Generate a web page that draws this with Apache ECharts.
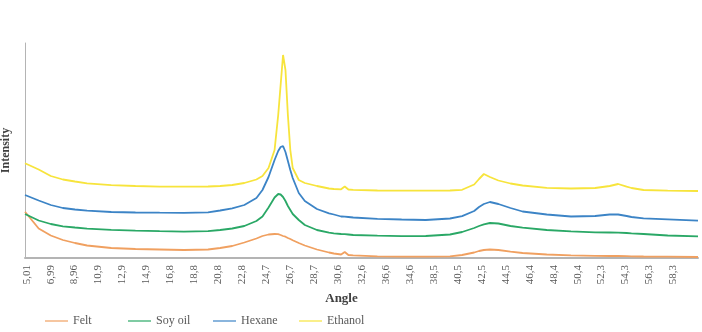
<!DOCTYPE html>
<html>
<head>
<meta charset="utf-8">
<script src="https://cdn.jsdelivr.net/npm/echarts@6/dist/echarts.min.js"></script>
<style>
  html, body { margin: 0; padding: 0; background: #fff; }
  #chart { width: 702px; height: 332px; }
</style>
</head>
<body>
<div id="chart"></div>
<script>
// x positions of the sampled points (2θ, degrees)
const angle = [4.87, 6, 7, 8, 9, 10, 12, 14, 16, 18, 20, 21, 22, 23, 24, 24.5, 25, 25.5, 25.8, 26.0,
  26.2, 26.4, 26.6, 26.8, 27.0, 27.5, 28, 29, 30, 30.4, 31.0, 31.3, 31.6, 32, 34, 36, 38, 40, 41, 42.0,
  42.4, 42.8, 43.3, 44, 45, 46, 48, 50, 52, 53.2, 53.9, 54.6, 55, 56, 58, 60.5]

// intensities (arbitrary units)
const felt = [46.3, 29.5, 22.5, 18, 15, 12.5, 10, 9, 8.5, 8, 8.5, 10, 12, 15.5, 19.5, 22, 23.5, 24, 23.8, 23,
  22, 21.3, 20, 19, 17.8, 15, 12.5, 8.5, 5.5, 4.5, 3.5, 6, 3, 2.7, 1.7, 1.3, 1.3, 1.7, 3, 5.5,
  7, 8, 8.5, 8, 6.3, 5, 3.5, 2.7, 2.2, 2, 2, 1.8, 1.7, 1.5, 1.3, 1]
const soyOil = [44, 37.5, 34, 31.7, 30.5, 29.4, 28.2, 27.4, 26.8, 26.3, 26.8, 28, 29.5, 32, 37, 41.5, 50.5, 60.5, 64, 63.5,
  61, 57, 52, 48, 44, 38, 33, 28, 25.3, 24.7, 24, 23.8, 23.5, 23, 22.3, 21.8, 22, 23.5, 26, 30,
  32, 33.7, 35, 34.5, 32, 30.3, 28, 26.7, 25.7, 25.5, 25.4, 25, 24.7, 24, 22.5, 21.7]
const hexane = [63, 57.5, 53, 50, 48.5, 47.3, 46, 45.5, 45.3, 45.2, 45.7, 47.5, 49.7, 53, 60, 68, 81, 98, 107, 111,
  112, 106, 97, 88, 80, 65, 57, 49, 44.7, 43.5, 41.5, 41.3, 41, 40.5, 39.2, 38.5, 38, 39.5, 41.8, 47,
  51, 54, 56, 54, 50, 46.5, 43.5, 41.5, 42, 43.5, 43.5, 42, 41, 39.7, 38.7, 37.3]
const ethanol = [94.7, 88.5, 82, 78.5, 76.5, 74.7, 72.8, 72, 71.3, 71.3, 71.5, 72, 73, 75, 78.5, 82, 90, 108, 143, 173,
  203, 188, 143, 108, 90, 78, 75, 72, 69.5, 69, 68.7, 71.5, 68.5, 68.2, 67.5, 67.3, 67.3, 67.5, 68.2, 73.5,
  79, 84, 81, 77.5, 74.5, 72.5, 70.2, 69.5, 70, 72, 74, 71.3, 70, 68, 67.3, 67]

// tick labels as printed under the axis
const tickLabels = ['5,01', '6,99', '8,96', '10,9', '12,9', '14,9', '16,8', '18,8', '20,8', '22,8',
  '24,7', '26,7', '28,7', '30,6', '32,6', '36,6', '34,6', '38,5', '40,5', '42,5',
  '44,5', '46,4', '48,4', '50,4', '52,3', '54,3', '56,3', '58,3']
const tickValues = tickLabels.map((t, i) => +(5.01 + i * 1.98).toFixed(2))

const seriesNames = ['Felt', 'Soy oil', 'Hexane', 'Ethanol']
const seriesData = [felt, soyOil, hexane, ethanol]
const colors = ['#f0a060', '#2aa866', '#3c84c6', '#f7e43c']
const legendLeft = [40, 123, 208, 294]

const font = "'Liberation Serif', 'DejaVu Serif', serif"

const myChart = echarts.init(document.getElementById('chart'))
myChart.setOption({
  animation: false,
  backgroundColor: '#fff',
  color: colors,
  grid: {
    left: 25,
    right: 4,
    top: 43,
    bottom: 74,
    outerBoundsMode: 'none'
  },
  // one legend per item, so each sits where the reference puts it
  legend: seriesNames.map((name, k) => ({
    data: [name],
    left: legendLeft[k],
    top: 310,
    icon: 'rect',
    itemWidth: 23,
    itemHeight: 2,
    itemGap: 6,
    itemStyle: { opacity: 0.6 },
    textStyle: {
      fontFamily: font,
      fontSize: 12,
      color: '#595959'
    }
  })),
  xAxis: {
    type: 'value',
    min: 4.87,
    max: 60.5,
    name: 'Angle',
    nameLocation: 'middle',
    nameGap: 33,
    nameTextStyle: {
      fontFamily: font,
      fontSize: 13,
      fontWeight: 'bold',
      color: '#404040',
      padding: [0, 40, 0, 0]
    },
    axisLine: { lineStyle: { color: '#b4b4b4', width: 2 } },
    axisTick: { show: false },
    splitLine: { show: false },
    axisLabel: {
      customValues: tickValues,
      rotate: 90,
      margin: 7,
      fontFamily: font,
      fontSize: 11,
      color: '#595959',
      formatter: (val) => {
        const i = tickValues.findIndex(v => Math.abs(v - val) < 1e-6)
        return i >= 0 ? tickLabels[i] : ''
      }
    }
  },
  yAxis: {
    type: 'value',
    min: 0,
    max: 215,
    name: 'Intensity',
    nameLocation: 'middle',
    nameGap: 13,
    nameTextStyle: {
      fontFamily: font,
      fontSize: 12,
      fontWeight: 'bold',
      color: '#404040'
    },
    axisLine: { show: true, lineStyle: { color: '#b4b4b4', width: 1 } },
    axisTick: { show: false },
    axisLabel: { show: false },
    splitLine: { show: false }
  },
  series: seriesNames.map((name, k) => ({
    name: name,
    type: 'line',
    showSymbol: false,
    data: angle.map((a, i) => [a, seriesData[k][i]]),
    lineStyle: { width: 1.8, color: colors[k] }
  }))
})
</script>
</body>
</html>
